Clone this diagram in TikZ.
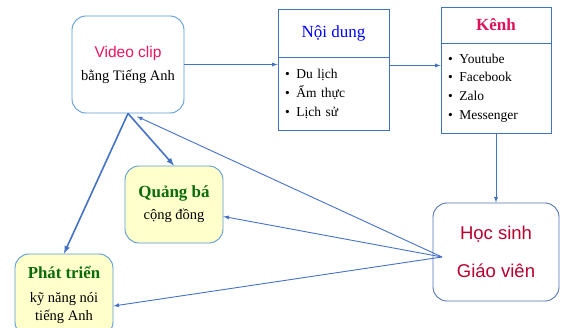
\documentclass[tikz,border=0pt]{standalone}
\usepackage{fontspec}
\setmainfont{Liberation Serif}
\setsansfont{Liberation Sans}
\definecolor{lineblue}{HTML}{4472C4}
\definecolor{boxblue}{HTML}{5B9BD5}
\definecolor{paleyellow}{HTML}{FFFFCC}
\definecolor{vidpink}{HTML}{EC1560}
\definecolor{kenhred}{HTML}{E0105A}
\definecolor{hsred}{HTML}{B8002E}
\definecolor{darkgreen}{HTML}{0B6B0B}
\begin{document}
\begin{tikzpicture}[x=1pt,y=-1pt,
    rbox/.style={draw=boxblue,line width=0.9pt,rounded corners=14pt,align=center,inner sep=0pt},
    ybox/.style={rbox,fill=paleyellow},
    sqbox/.style={draw=lineblue,line width=0.9pt,inner sep=0pt},
    listbox/.style={sqbox,align=left,inner xsep=7pt,text width=#1,font=\fontsize{13.5}{19}\selectfont},
    link/.style={draw=lineblue,line width=0.9pt,-latex},
    thick link/.style={draw=lineblue,line width=1.6pt,-latex}]
    \useasboundingbox (0,0) rectangle (565,328);
    % nodes
    \node[rbox,minimum width=112pt,minimum height=97pt,font=\fontsize{14.5}{23}\selectfont] (video) at (128,64.5)
        {{\sffamily\fontsize{15.5}{18}\selectfont\color{vidpink}Video clip}\\{bằng Tiếng Anh}};
    \node[sqbox,minimum width=111pt,minimum height=48pt,font=\fontsize{17}{20}\selectfont,text=blue] (nd) at (333.5,33) {Nội dung};
    \node[listbox=97pt,minimum height=73pt] (ndlist) at (333.5,93.5)
        {\textbullet\enspace Du lịch\\\textbullet\enspace Ẩm thực\\\textbullet\enspace Lịch sử};
    \node[sqbox,minimum width=110pt,minimum height=36pt,font=\bfseries\fontsize{17}{20}\selectfont,text=kenhred] (kenh) at (496,25) {Kênh};
    \node[listbox=96pt,minimum height=90pt,font=\fontsize{13.5}{18.7}\selectfont] (kenhlist) at (496,88)
        {\textbullet\enspace Youtube\\\textbullet\enspace Facebook\\\textbullet\enspace Zalo\\\textbullet\enspace Messenger};
    \node[rbox,draw=lineblue!80!gray,minimum width=126pt,minimum height=98pt,font=\sffamily\fontsize{18.5}{38}\selectfont,text=hsred] (hs) at (496,252)
        {Học sinh\\Giáo viên};
    \node[ybox,minimum width=98pt,minimum height=77pt,font=\fontsize{14.5}{22}\selectfont] (qb) at (174,204.5)
        {{\bfseries\fontsize{17}{20}\selectfont\color{darkgreen}Quảng bá}\\{cộng đồng}};
    \node[ybox,minimum width=98pt,minimum height=82pt,font=\fontsize{14.5}{18}\selectfont] (pt) at (64,295)
        {{\bfseries\fontsize{16.8}{20}\selectfont\color{darkgreen}Phát triển}\\[6pt]{kỹ năng nói}\\{tiếng Anh}};
    \coordinate (hub) at (442,257);
    % connectors
    \draw[link] (video.east) -- (video.east -| ndlist.west);
    \draw[link] ([yshift=-1pt]ndlist.east |- video.east) -- ([yshift=-1pt]video.east -| kenhlist.west);
    \draw[link] (kenhlist.south) -- (hs.north);
    \draw[thick link] (video.south) -- (qb.north);
    \draw[thick link] (video.south) -- (pt.north);
    \draw[link] (hub) -- ([xshift=9pt,yshift=-3pt]video.south);
    \draw[link] (hub) -- ([yshift=-12pt]qb.east);
    \draw[link] (hub) -- ([yshift=-11pt]pt.east);
\end{tikzpicture}
\end{document}
